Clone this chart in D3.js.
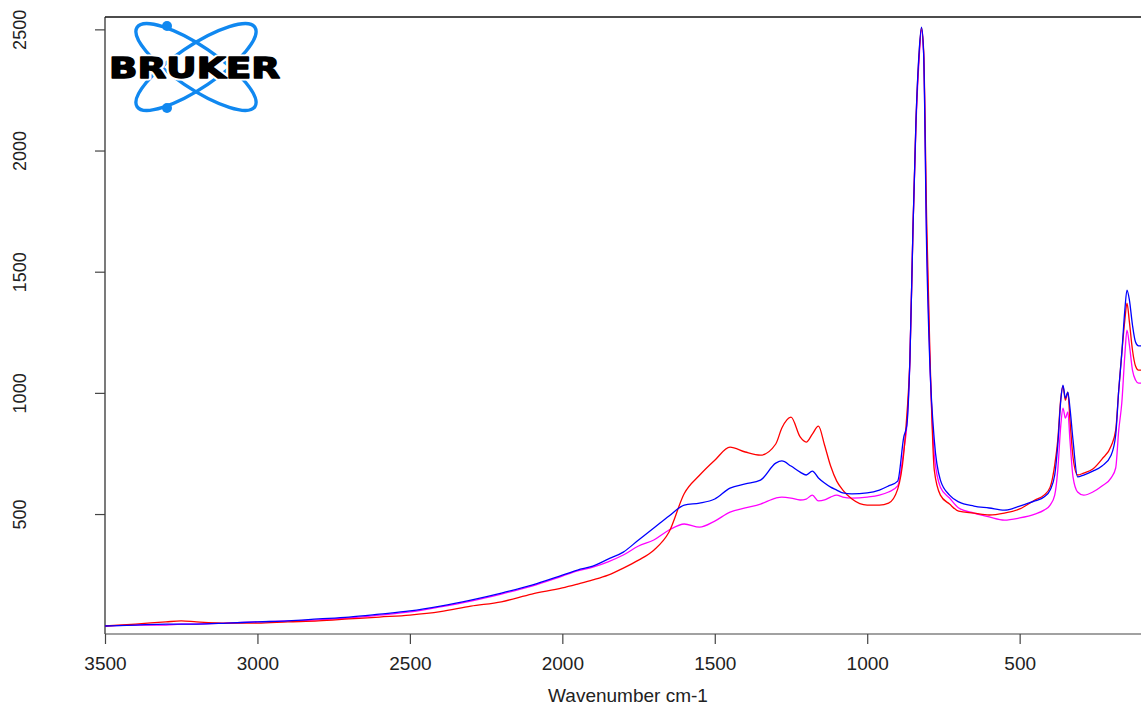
<!DOCTYPE html>
<html>
<head>
<meta charset="utf-8">
<script src="https://cdn.jsdelivr.net/npm/d3@7/dist/d3.min.js"></script>
<style>
  body { margin: 0; background: #fff; }
  text { font-family: "Liberation Sans", Arial, sans-serif; fill: #222; }
</style>
</head>
<body>
<div id="chart"></div>
<script>
// wavenumber grid (cm-1), shared by the three spectra
var wavenumbers = [3500, 3400, 3300, 3250, 3200, 3100, 3000, 2900, 2800, 2700, 2600, 2500,
  2400, 2300, 2200, 2100, 2000, 1950, 1900, 1850, 1800, 1750, 1700, 1650, 1600, 1550,
  1500, 1450, 1400, 1350, 1300, 1280, 1250, 1220, 1200, 1180, 1160, 1140, 1120, 1100,
  1080, 1050, 1000, 960, 930, 900, 880, 870, 860, 850, 840, 830, 822, 815, 805, 795,
  780, 760, 730, 700, 650, 600, 550, 500, 450, 420, 400, 385, 375, 365, 358, 350, 342,
  335, 325, 310, 290, 260, 230, 200, 185, 175, 165, 155, 148, 140, 130, 120, 110, 100];

var redSpec = [38, 46, 55, 59, 55, 50, 50, 55, 59, 67, 75, 83,
  97, 120, 138, 170, 195, 211, 228, 248, 277, 310, 351, 426, 585, 660,
  722, 776, 756, 743, 789, 855, 900, 818, 797, 830, 863, 785, 698, 636,
  599, 562, 537, 537, 545, 603, 752, 908, 1135, 1672, 2125, 2393, 2505, 2414, 1713, 1197,
  681, 578, 541, 512, 504, 496, 504, 521, 558, 578, 611, 702, 805, 978, 1028, 970, 1003,
  888, 735, 661, 669, 686, 727, 781, 846, 1012, 1164, 1300, 1370, 1292, 1177, 1111, 1094, 1094];

var blueSpec = [38, 42, 46, 46, 46, 50, 55, 59, 67, 75, 87, 100,
  120, 145, 174, 207, 248, 269, 285, 314, 343, 393, 442, 492, 537, 545,
  562, 607, 624, 640, 710, 719, 698, 673, 661, 677, 649, 628, 611, 599,
  587, 583, 587, 599, 616, 636, 818, 867, 1135, 1672, 2125, 2402, 2509, 2402, 1589, 1135,
  805, 640, 578, 550, 533, 525, 516, 533, 554, 570, 599, 661, 785, 970, 1032, 978, 1003,
  937, 805, 653, 661, 677, 698, 743, 826, 1012, 1164, 1342, 1424, 1383, 1280, 1210, 1194, 1194];

var magentaSpec = [38, 42, 42, 46, 46, 50, 55, 59, 63, 71, 83, 96,
  117, 141, 170, 203, 244, 265, 281, 303, 331, 368, 393, 434, 459, 446,
  471, 508, 525, 541, 566, 570, 566, 558, 562, 578, 554, 558, 570, 578,
  570, 566, 570, 578, 591, 616, 764, 867, 1135, 1672, 2105, 2373, 2497, 2400, 1630, 1156,
  743, 611, 566, 525, 504, 488, 475, 484, 500, 516, 537, 578, 681, 867, 937, 896, 921,
  805, 653, 591, 578, 591, 616, 649, 690, 846, 958, 1156, 1259, 1197, 1094, 1053, 1040, 1040];

var xTicks = [3500, 3000, 2500, 2000, 1500, 1000, 500];
var yTicks = [500, 1000, 1500, 2000, 2500];

var W = 1141, H = 709;
var mLeft = 105, mTop = 17, mBottom = 634;

var svg = d3.select('#chart').append('svg')
  .attr('width', W)
  .attr('height', H);

var x = d3.scaleLinear().domain([3500, 102]).range([mLeft, W]);
var y = d3.scaleLinear().domain([5, 2551]).range([mBottom, mTop]);

svg.append('clipPath').attr('id', 'plotclip')
  .append('rect')
  .attr('x', mLeft).attr('y', mTop)
  .attr('width', W - mLeft).attr('height', mBottom - mTop);

// plot frame
svg.append('line').attr('x1', mLeft).attr('x2', W).attr('y1', mTop).attr('y2', mTop)
  .style('stroke', '#111').style('stroke-width', 1.5);
svg.append('line').attr('x1', mLeft).attr('x2', mLeft).attr('y1', mTop).attr('y2', mBottom)
  .style('stroke', '#222').style('stroke-width', 1.2);

// axes
var xAxis = svg.append('g')
  .attr('transform', 'translate(0,' + mBottom + ')')
  .call(d3.axisBottom(x).tickValues(xTicks).tickSize(10).tickPadding(13).tickFormat(d3.format('d')));
xAxis.select('.domain').attr('d', 'M' + mLeft + ',0H' + W).style('stroke', '#444').style('stroke-width', 1.2);
xAxis.selectAll('.tick line').style('stroke', '#444').style('stroke-width', 1.2);
xAxis.selectAll('.tick text').style('font-size', '19px').attr('fill', '#222');

var yAxis = svg.append('g')
  .attr('transform', 'translate(' + mLeft + ',0)')
  .call(d3.axisLeft(y).tickValues(yTicks).tickSize(10).tickFormat(d3.format('d')));
yAxis.select('.domain').remove();
yAxis.selectAll('.tick line').style('stroke', '#444').style('stroke-width', 1.2);
yAxis.selectAll('.tick text')
  .style('font-size', '18px')
  .attr('fill', '#222')
  .attr('text-anchor', 'middle')
  .attr('transform', 'rotate(-90)')
  .attr('x', 0)
  .attr('y', -(mLeft - 26))
  .attr('dy', 0);

svg.append('text')
  .attr('x', 628).attr('y', 702)
  .attr('text-anchor', 'middle')
  .style('font-size', '19px')
  .text('Wavenumber cm-1');

// spectra
var series = [
  { name: 'magenta', values: magentaSpec, color: '#ff00ff' },
  { name: 'red', values: redSpec, color: '#ff0000' },
  { name: 'blue', values: blueSpec, color: '#0000ff' }
];

var line = d3.line()
  .x(function(d) { return x(d[0]); })
  .y(function(d) { return y(d[1]); })
  .curve(d3.curveMonotoneX);

svg.append('g').attr('clip-path', 'url(#plotclip)')
  .selectAll('path')
  .data(series)
  .enter().append('path')
  .attr('d', function(s) { return line(d3.zip(wavenumbers, s.values)); })
  .style('fill', 'none')
  .style('stroke', function(s) { return s.color; })
  .style('stroke-width', 1.3);

// Bruker logo
var logo = svg.append('g');
var blue = '#1088f0';
logo.append('ellipse')
  .attr('cx', 196).attr('cy', 67).attr('rx', 71).attr('ry', 21)
  .attr('transform', 'rotate(34,196,67)')
  .style('fill', 'none').style('stroke', blue).style('stroke-width', 3.4);
logo.append('ellipse')
  .attr('cx', 196).attr('cy', 67).attr('rx', 71).attr('ry', 21)
  .attr('transform', 'rotate(-34,196,67)')
  .style('fill', 'none').style('stroke', blue).style('stroke-width', 3.4);
logo.append('circle').attr('cx', 167).attr('cy', 26).attr('r', 5).style('fill', blue);
logo.append('circle').attr('cx', 167).attr('cy', 108).attr('r', 5).style('fill', blue);
// white halo, then heavy black lettering
['#fff', '#000'].forEach(function(c, i) {
  logo.append('text')
    .attr('x', 109).attr('y', 78)
    .attr('textLength', 171)
    .attr('lengthAdjust', 'spacingAndGlyphs')
    .style('font-family', '"DejaVu Sans", sans-serif')
    .style('font-weight', 'bold')
    .style('font-size', '28px')
    .style('fill', '#000')
    .style('stroke', c)
    .style('stroke-width', i === 0 ? 5 : 1.4)
    .style('stroke-linejoin', 'round')
    .text('BRUKER');
});
</script>
</body>
</html>
